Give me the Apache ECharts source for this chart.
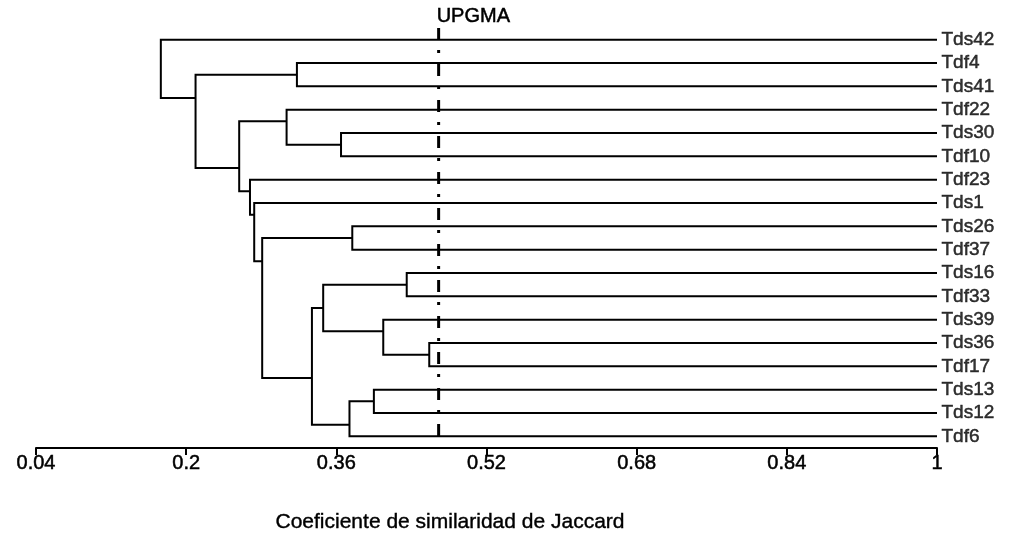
<!DOCTYPE html>
<html>
<head>
<meta charset="utf-8">
<script src="https://cdn.jsdelivr.net/npm/echarts@6/dist/echarts.min.js"></script>
<style>
html,body{margin:0;padding:0;background:#fff;}
#chart{width:1011px;height:539px;}
</style>
</head>
<body>
<div id="chart"></div>
<script>
// Leaves in display order (top to bottom)
const leaves = ['Tds42','Tdf4','Tds41','Tdf22','Tds30','Tdf10','Tdf23','Tds1','Tds26','Tdf37','Tds16','Tdf33','Tds39','Tds36','Tdf17','Tds13','Tds12','Tdf6'];
// Merges (UPGMA, Jaccard similarity): mN refers to the N-th merge (1-based)
const mergeLeft   = ['Tds36','Tds16','Tds39','Tds13','Tds26','m4','Tds30','m2','m8','Tdf4','Tdf22','m5','Tds1','Tdf23','m11','m10','Tds42'];
const mergeRight  = ['Tdf17','Tdf33','m1','Tds12','Tdf37','Tdf6','Tdf10','m3','m6','Tds41','m7','m9','m12','m13','m14','m15','m16'];
const mergeHeight = [0.459,0.435,0.410,0.400,0.377,0.374,0.365,0.346,0.334,0.318,0.307,0.281,0.2725,0.268,0.2565,0.21,0.173];
const xTicks = [0.04,0.2,0.36,0.52,0.68,0.84,1];
const cutoff = 0.469;
const axisTitle = 'Coeficiente de similaridad de Jaccard';
const cutoffLabel = 'UPGMA';

(function(){
// Build dendrogram geometry
const nodes = {};
leaves.forEach((n,i)=>{ nodes[n] = {x:1, y:i, min:i, max:i}; });
const segs = [];
mergeHeight.forEach((h,k)=>{
  const a = nodes[mergeLeft[k]], b = nodes[mergeRight[k]];
  const up = a.min < b.min ? a : b, lo = a.min < b.min ? b : a;
  const y = (up.max + lo.min)/2;
  segs.push({coords:[[a.x,a.y],[h,a.y],[h,b.y],[b.x,b.y]]});
  nodes['m'+(k+1)] = {x:h, y:y, min:Math.min(a.min,b.min), max:Math.max(a.max,b.max)};
});

const FONT = 'Liberation Sans, Arial, sans-serif';
const TB = {textBorderColor:'#000', textBorderWidth:0.5};
const chart = echarts.init(document.getElementById('chart'), null, {renderer:'canvas'});
chart.setOption({
  animation:false,
  backgroundColor:'#fff',
  grid:{left:36, right:74, top:28, bottom:91},
  xAxis:{
    type:'value', min:0.04, max:1, position:'bottom',
    axisLine:{show:true, onZero:false, lineStyle:{color:'#000', width:2}},
    axisTick:{show:true, customValues:xTicks, length:7, lineStyle:{color:'#000', width:2}},
    axisLabel:Object.assign({customValues:xTicks, color:'#000', fontSize:20, fontFamily:FONT, margin:5}, TB),
    splitLine:{show:false}
  },
  yAxis:{type:'value', inverse:true, min:-0.5, max:17.5, show:false},
  series:[
    {
      type:'lines', coordinateSystem:'cartesian2d', polyline:true,
      data:segs, silent:true,
      lineStyle:{color:'#000', width:2, opacity:1}
    },
    {
      type:'line', data:[[cutoff,-0.5],[cutoff,17.25]], showSymbol:false, silent:true,
      lineStyle:{color:'#000', width:3, type:[12,10,3,11]}
    },
    {
      type:'scatter', symbolSize:1, itemStyle:{color:'rgba(0,0,0,0)'}, silent:true,
      data:leaves.map((n,i)=>[1,i,n]),
      label:Object.assign({show:true, position:'right', distance:4, formatter:p=>p.value[2], color:'#000', fontSize:19, fontFamily:FONT}, TB)
    }
  ]
});
const topPt = chart.convertToPixel({gridIndex:0}, [cutoff, -0.5]);
chart.setOption({
  graphic:[
    {type:'text', x:topPt[0]-2, y:16, style:{text:cutoffLabel, font:'20px '+FONT, fill:'#000', stroke:'#000', lineWidth:0.5, textAlign:'left', textVerticalAlign:'middle', align:'left', verticalAlign:'middle'}},
    {type:'text', x:450, y:522, style:{text:axisTitle, font:'21px '+FONT, fill:'#000', stroke:'#000', lineWidth:0.4, textAlign:'center', textVerticalAlign:'middle', align:'center', verticalAlign:'middle'}}
  ]
});
})();
</script>
</body>
</html>
